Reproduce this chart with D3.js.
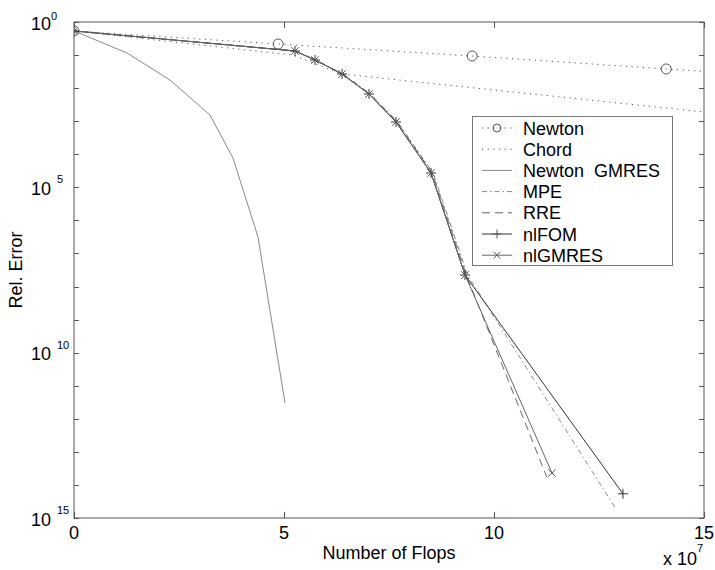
<!DOCTYPE html>
<html>
<head>
<meta charset="utf-8">
<script src="https://cdn.jsdelivr.net/npm/d3@7"></script>
<style>
  html, body { margin: 0; padding: 0; background: #fff; }
  svg { display: block; font-family: Arial, "Liberation Sans", sans-serif; }
  text { white-space: pre; }
</style>
</head>
<body>
<svg id="chart" width="715" height="570"></svg>
<script>
// Flops are in units of 1e7; errors are relative errors.
const newtonX = [0, 4.86, 9.48, 14.1, 18.7];
const newtonY = [0.535, 0.216, 0.0938, 0.038, 0.0155];

const chordX = [0, 5.21, 6.38, 15];
const chordY = [0.535, 0.1, 0.0267, 1.9e-3];

const newtonGmresX = [0, 1.262, 2.286, 3.238, 3.786, 4.381, 5.024];
const newtonGmresY = [0.535, 0.1156, 0.0176, 1.54e-3, 7.7e-5, 3.15e-7, 3.0e-12];

const mpeX = [0, 5.27, 5.76, 6.41, 7.06, 7.71, 8.55, 9.37, 12.88];
const mpeY = [0.535, 0.133, 0.071, 0.0267, 6.65e-3, 9.46e-4, 2.71e-5, 2.23e-8, 2.1e-15];

const rreX = [0, 5.26, 5.75, 6.39, 7.04, 7.69, 8.53, 9.34, 11.26];
const rreY = [0.535, 0.133, 0.071, 0.0267, 6.65e-3, 9.46e-4, 2.71e-5, 2.23e-8, 1.7e-14];

const nlfomX = [0, 5.262, 5.738, 6.381, 7.024, 7.667, 8.5, 9.31, 13.07];
const nlfomY = [0.535, 0.133, 0.071, 0.0267, 6.65e-3, 9.46e-4, 2.71e-5, 2.23e-8, 5.4e-15];

const nlgmresX = [0, 5.262, 5.738, 6.381, 7.024, 7.667, 8.5, 9.31, 11.38];
const nlgmresY = [0.535, 0.133, 0.071, 0.0267, 6.65e-3, 9.46e-4, 2.71e-5, 2.23e-8, 2.3e-14];

const xTicks = [0, 5, 10, 15];
const yMajorExp = [0, 5, 10, 15];          // exponent magnitudes shown as labels
const legendLabels = ["Newton", "Chord", "Newton  GMRES", "MPE", "RRE", "nlFOM", "nlGMRES"];

const svg = d3.select("#chart");
const plotLeft = 74, plotRight = 704, plotTop = 22, plotBottom = 518;

const x = d3.scaleLinear().domain([0, 15]).range([plotLeft, plotRight]);
const y = d3.scaleLog().domain([1e-15, 1]).range([plotBottom, plotTop]);

const zip = (xs, ys) => xs.map((v, i) => [v, ys[i]]);

const series = [
  { name: legendLabels[0], pts: zip(newtonX, newtonY), color: "#555", dash: "1.2,4.5", marker: "circle" },
  { name: legendLabels[1], pts: zip(chordX, chordY), color: "#555", dash: "1.2,4.5", marker: null },
  { name: legendLabels[2], pts: zip(newtonGmresX, newtonGmresY), color: "#888", dash: null, marker: null },
  { name: legendLabels[3], pts: zip(mpeX, mpeY), color: "#888", dash: "5,3,1.5,3", marker: null },
  { name: legendLabels[4], pts: zip(rreX, rreY), color: "#666", dash: "8,5", marker: null },
  { name: legendLabels[5], pts: zip(nlfomX, nlfomY), color: "#333", dash: null, marker: "plus" },
  { name: legendLabels[6], pts: zip(nlgmresX, nlgmresY), color: "#666", dash: null, marker: "cross" }
];

// clip region for the plot box
svg.append("defs").append("clipPath").attr("id", "plotClip")
  .append("rect").attr("x", plotLeft).attr("y", plotTop)
  .attr("width", plotRight - plotLeft).attr("height", plotBottom - plotTop);

const plot = svg.append("g").attr("clip-path", "url(#plotClip)");
const line = d3.line().x(d => x(d[0])).y(d => y(d[1]));

function drawMarker(g, type, cx, cy, color, size) {
  if (type === "circle") {
    g.append("circle").attr("cx", cx).attr("cy", cy).attr("r", size)
      .attr("fill", "none").attr("stroke", color).attr("stroke-width", 1);
  } else if (type === "plus") {
    g.append("path").attr("d", `M${cx - size},${cy}H${cx + size}M${cx},${cy - size}V${cy + size}`)
      .attr("stroke", color).attr("stroke-width", 1).attr("fill", "none");
  } else if (type === "cross") {
    const s = size * 0.75;
    g.append("path").attr("d", `M${cx - s},${cy - s}L${cx + s},${cy + s}M${cx - s},${cy + s}L${cx + s},${cy - s}`)
      .attr("stroke", color).attr("stroke-width", 1).attr("fill", "none");
  }
}

series.forEach(s => {
  plot.append("path").datum(s.pts).attr("d", line)
    .attr("fill", "none").attr("stroke", s.color).attr("stroke-width", 1)
    .attr("stroke-dasharray", s.dash);
});
series.forEach(s => {
  if (!s.marker) return;
  s.pts.forEach(p => {
    drawMarker(plot, s.marker, x(p[0]), y(p[1]), s.marker === "plus" ? "#333" : "#555", 5);
  });
});

// frame
const frameColor = "#555";
svg.append("rect").attr("x", plotLeft).attr("y", plotTop)
  .attr("width", plotRight - plotLeft).attr("height", plotBottom - plotTop)
  .attr("fill", "none").attr("stroke", frameColor).attr("stroke-width", 1);

// x ticks (inward, top and bottom)
const tickG = svg.append("g").attr("stroke", frameColor).attr("stroke-width", 1);
xTicks.forEach(t => {
  const px = Math.round(x(t)) + 0.5;
  tickG.append("line").attr("x1", px).attr("x2", px).attr("y1", plotBottom).attr("y2", plotBottom - 6);
  tickG.append("line").attr("x1", px).attr("x2", px).attr("y1", plotTop).attr("y2", plotTop + 6);
});
// y ticks every decade (inward, left and right)
d3.range(0, 16).forEach(e => {
  const py = Math.round(y(Math.pow(10, -e))) + 0.5;
  tickG.append("line").attr("x1", plotLeft).attr("x2", plotLeft + 5).attr("y1", py).attr("y2", py);
  tickG.append("line").attr("x1", plotRight).attr("x2", plotRight - 5).attr("y1", py).attr("y2", py);
});

// x tick labels
svg.append("g").selectAll("text").data(xTicks).join("text")
  .attr("x", d => x(d)).attr("y", 539)
  .attr("text-anchor", "middle").attr("font-size", 18).attr("fill", "#000")
  .text(d => d);

// y tick labels: "10" with raised exponent
const yl = svg.append("g").attr("fill", "#000");
yMajorExp.forEach(e => {
  const py = y(Math.pow(10, -e));
  yl.append("text").attr("x", 51).attr("y", py + 7.5)
    .attr("text-anchor", "end").attr("font-size", 18).text("10");
  yl.append("text").attr("x", e === 0 ? 51 : 57).attr("y", py - (e === 0 ? 2 : 4))
    .attr("font-size", 11).text(e);
});

// axis titles
svg.append("text").attr("x", (plotLeft + plotRight) / 2).attr("y", 559)
  .attr("text-anchor", "middle").attr("font-size", 18).text("Number of Flops");
svg.append("text").attr("transform", `translate(22,${(plotTop + plotBottom) / 2}) rotate(-90)`)
  .attr("text-anchor", "middle").attr("font-size", 18).text("Rel. Error");
const sc = svg.append("text").attr("x", 663).attr("y", 565).attr("font-size", 18);
sc.append("tspan").text("x 10");
sc.append("tspan").attr("font-size", 11).attr("dy", -13).text("7");

// legend
const lg = svg.append("g");
lg.append("rect").attr("x", 472.5).attr("y", 116.5).attr("width", 200).attr("height", 149)
  .attr("fill", "#fff").attr("stroke", "#777").attr("stroke-width", 1);
series.forEach((s, i) => {
  const cy = 128 + i * 21.2;
  lg.append("line").attr("x1", 482).attr("x2", 512).attr("y1", cy).attr("y2", cy)
    .attr("stroke", s.color).attr("stroke-width", 1).attr("stroke-dasharray", s.dash);
  if (s.marker) drawMarker(lg, s.marker, 497, cy, "#555", s.marker === "circle" ? 4 : 4.5);
  lg.append("text").attr("x", 523).attr("y", cy + 6.5).attr("font-size", 18)
    .attr("fill", "#000").text(s.name);
});
</script>
</body>
</html>
